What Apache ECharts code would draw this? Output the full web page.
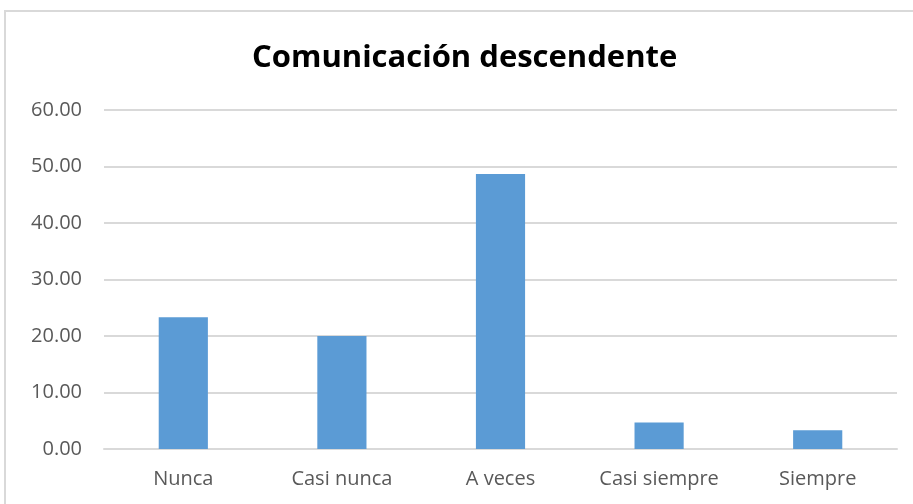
<!DOCTYPE html>
<html>
<head>
<meta charset="utf-8">
<script src="https://cdn.jsdelivr.net/npm/echarts@6/dist/echarts.min.js"></script>
<style>
  html, body { margin: 0; padding: 0; background: #fff; }
  #chart { width: 913px; height: 504px; }
</style>
</head>
<body>
<div id="chart"></div>
<script>
const categories = ["Nunca", "Casi nunca", "A veces", "Casi siempre", "Siempre"];
const values = [23.33, 20.0, 48.67, 4.67, 3.33];
const titleText = "Comunicación descendente";

const chart = echarts.init(document.getElementById("chart"));
chart.setOption({
  animation: false,
  title: {
    text: titleText,
    left: 252,
    top: 43,
    padding: 0,
    textStyle: { fontFamily: "Open Sans", fontWeight: "bold", fontSize: 31, color: "#000" },
  },
  graphic: [
    {
      type: "rect",
      shape: { x: 5, y: 11, width: 920, height: 520 },
      style: { fill: "none", stroke: "#d9d9d9", lineWidth: 2 },
    },
  ],
  grid: { left: 104, right: 16, top: 110, bottom: 55 },
  xAxis: {
    type: "category",
    data: categories,
    axisLine: { lineStyle: { color: "#d9d9d9", width: 2 } },
    axisTick: { show: false },
    axisLabel: { color: "#595959", fontFamily: "Open Sans", fontSize: 20, margin: 20 },
  },
  yAxis: {
    type: "value",
    min: 0,
    max: 60,
    interval: 10,
    axisLine: { show: false },
    axisTick: { show: false },
    splitLine: { lineStyle: { color: "#d9d9d9", width: 2 } },
    axisLabel: {
      color: "#595959",
      fontFamily: "Open Sans",
      fontSize: 20,
      margin: 22,
      formatter: (v) => v.toFixed(2),
    },
  },
  series: [
    {
      type: "bar",
      data: values,
      barWidth: "31%",
      itemStyle: { color: "#5b9bd5" },
    },
  ],
});
</script>
</body>
</html>
